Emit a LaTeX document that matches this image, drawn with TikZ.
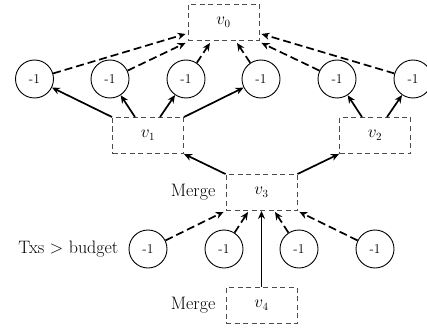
\documentclass[tikz,border=0pt]{standalone}
\usetikzlibrary{calc,arrows.meta}
\begin{document}
\begin{tikzpicture}[x=1pt,y=-1pt,
  vbox/.style={draw=black!70,dash pattern=on 5pt off 3.5pt,line width=0.9pt,minimum width=71pt,minimum height=36pt,inner sep=0pt,font=\fontsize{16}{19}\selectfont},
  cnode/.style={circle,draw,line width=0.9pt,minimum size=38pt,inner sep=0pt,font=\fontsize{13.5}{16}\selectfont},
  lbl/.style={anchor=east,inner sep=0pt,font=\fontsize{18}{21}\selectfont},
  sarr/.style={-{Stealth[length=8pt,width=7pt]},line width=1.7pt},
  darr/.style={sarr,dash pattern=on 8pt off 4pt}]
\useasboundingbox (0,0) rectangle (427,331);
\node[vbox] (v0) at (223.5,22.5) {$v_0$};
\node[vbox] (v1) at (148,135.5) {$v_1$};
\node[vbox] (v2) at (375,135.5) {$v_2$};
\node[vbox] (v3) at (261.5,192.5) {$v_3$};
\node[vbox] (v4) at (261.5,305.5) {$v_4$};
\node[cnode] (c1) at (34.5,79) {-1};
\node[cnode] (c2) at (110,79) {-1};
\node[cnode] (c3) at (186,79) {-1};
\node[cnode] (c4) at (261,79) {-1};
\node[cnode] (c5) at (337,79) {-1};
\node[cnode] (c6) at (413,79) {-1};
\node[cnode] (d1) at (148,249) {-1};
\node[cnode] (d2) at (224,249) {-1};
\node[cnode] (d3) at (299,249) {-1};
\node[cnode] (d4) at (375,249) {-1};
\node[lbl] (m3) at ($(v3.west)+(-10,0)$) {Merge};
\node[lbl] (m4) at ($(v4.west)+(-10,0)$) {Merge};
\node[lbl] (tx) at ($(d1.west)+(-10,0)$) {Txs > budget};
% dashed to v0
\draw[darr] (c1) -- ($(v0.south west)+(-2,-7)$);
\draw[darr] (c2) -- ($(v0.south west)+(-2,2)$);
\draw[darr] (c3) -- ($(v0.south)+(-13.5,2)$);
\draw[darr] (c4) -- ($(v0.south)+(13.5,2)$);
\draw[darr] (c5) -- ($(v0.south east)+(2,2)$);
\draw[darr] (c6) -- ($(v0.south east)+(2,-7)$);
% v1, v2 to circles
\draw[sarr] (v1.north west) -- (c1);
\draw[sarr] ($(v1.north)+(-13,0)$) -- (c2);
\draw[sarr] ($(v1.north)+(12,0)$) -- (c3);
\draw[sarr] (v1.north east) -- (c4);
\draw[sarr] ($(v2.north)+(-13,0)$) -- (c5);
\draw[sarr] ($(v2.north)+(12,0)$) -- (c6);
% v3 to v1, v2
\draw[sarr] (v3.north west) -- (v1.south east);
\draw[sarr] (v3.north east) -- (v2.south west);
% row 2 to v3
\draw[darr] (d1) -- ($(v3.south west)+(-2,1)$);
\draw[darr] (d2) -- ($(v3.south)+(-13.5,1)$);
\draw[darr] (d3) -- ($(v3.south)+(13.5,1)$);
\draw[darr] (d4) -- ($(v3.south east)+(2,1)$);
\draw[sarr] (v4.north) -- (v3.south);
\end{tikzpicture}
\end{document}
